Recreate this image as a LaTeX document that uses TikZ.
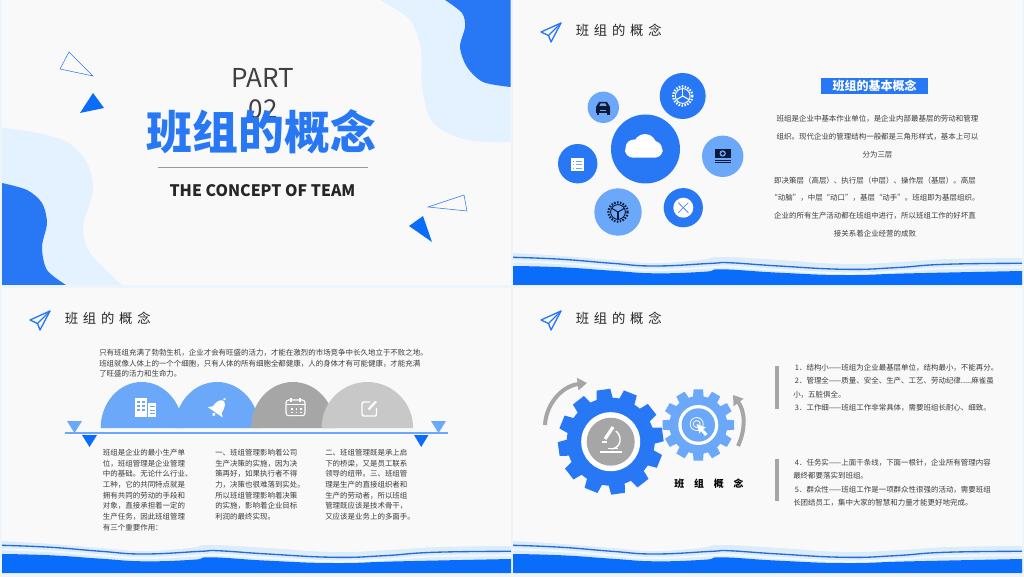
\documentclass[tikz,border=0pt]{standalone}
\usepackage{fontspec}
\setmainfont{Noto Sans CJK SC}
\newfontfamily\headfont[LetterSpace=36]{Noto Sans CJK SC}
\newfontfamily\wideboldfont[LetterSpace=100]{Noto Sans CJK SC}
\usepackage{tikz}
\usetikzlibrary{arrows.meta}
\usepackage{xcolor}

\definecolor{paperbg}{HTML}{F9F9F9}
\definecolor{gutterbg}{HTML}{EDF5FA}
\definecolor{bluedark}{HTML}{2878F5}
\definecolor{bluewave}{HTML}{0A6CFB}
\definecolor{bluelight}{HTML}{6CA8FA}
\definecolor{bluepale}{HTML}{E4F1FE}
\definecolor{wavepalec}{HTML}{DCECFA}
\definecolor{greymid}{HTML}{A6A6A6}
\definecolor{greylight}{HTML}{C8C8C8}
\definecolor{bodygrey}{HTML}{3C3C3C}
\definecolor{iconnavy}{HTML}{0B1A38}

\tikzset{
  bodytext/.style={text=bodygrey, inner sep=0pt, font=\fontsize{5.6}{#1}\selectfont},
  headtext/.style={text=black!85, inner sep=0pt, anchor=west, font=\headfont\fontsize{10}{12}\selectfont},
  planeicon/.style={draw=bluedark, line width=1pt, line join=round},
}

% curves of the wave strip along the foot of a slide
\newcommand{\wavepale}{plot[smooth, tension=0.8] coordinates {(513,253) (562,256) (612,260) (655,263) (700,260) (722,257) (779,260) (845,264) (900,262) (950,259) (1022,258)}}
\newcommand{\waveline}{plot[smooth, tension=0.8] coordinates {(513,257.3) (562,259.3) (612,263.3) (655,266) (712,263.3) (729,262.7) (779,266) (845,269.3) (895,267.7) (945,264.3) (1022,263.3)}}
\newcommand{\waveband}{plot[smooth, tension=0.8] coordinates {(513,266) (562,267.3) (612,270.7) (655,273.3) (705,271.7) (722,269.3) (779,272.7) (845,275) (912,273.3) (1022,271)}}

% toothed wheel: centre x, centre y, tip radius, root radius, colour, first tooth angle
\newcommand{\toothwheel}[6]{
  \fill[#5] (#1,#2) circle (#4);
  \foreach \t in {0,...,11} {
    \pgfmathsetmacro{\a}{#6+30*\t}
    \fill[#5] ({#1+(#4-1)*cos(\a-11)},{#2-(#4-1)*sin(\a-11)}) -- ({#1+#3*cos(\a-7.5)},{#2-#3*sin(\a-7.5)}) -- ({#1+#3*cos(\a+7.5)},{#2-#3*sin(\a+7.5)}) -- ({#1+(#4-1)*cos(\a+11)},{#2-(#4-1)*sin(\a+11)}) -- cycle;
  }
}
% small three spoke wheel glyph, last argument turns the spokes over
\newcommand{\spokewheel}[4]{
  \draw[#3, line width=1.7pt, dash pattern=on 1.1pt off 1.1pt] (#1,#2) circle (9.6);
  \draw[#3, line width=0.7pt] (#1,#2) circle (7.4);
  \draw[#3, line width=0.8pt] (#1,#2) -- ++(0,#4*7.4);
  \draw[#3, line width=0.8pt] (#1,#2) -- ++(6.4,#4*-3.7);
  \draw[#3, line width=0.8pt] (#1,#2) -- ++(-6.4,#4*-3.7);
}

\begin{document}
\begin{tikzpicture}[x=0.75pt, y=-0.75pt]
\useasboundingbox (0,0) rectangle (1024,577);
\fill[gutterbg] (0,0) rectangle (1024,577);
\fill[paperbg] (2,0) rectangle (510.5,285);
\fill[paperbg] (513,0) rectangle (1022,285);
\fill[paperbg] (2,288) rectangle (510.5,573.5);
\fill[paperbg] (513,288) rectangle (1022,573.5);

% Slide one - blobs and triangles
\fill[bluepale] (380,0) -- plot[smooth] coordinates {(380,0) (410,20) (421,50) (422,87) (433,123) (467,140) (510.5,142)} -- (510.5,0) -- cycle;
\fill[bluedark] (445,0) -- plot[smooth] coordinates {(445,0) (462,13) (465,27) (460,47) (467,67) (483,82) (510.5,87)} -- (510.5,0) -- cycle;
\fill[bluepale] (2,128) -- plot[smooth] coordinates {(2,128) (33,132) (67,142) (87,163) (93,190) (83,227) (90,253) (122,285)} -- (2,285) -- cycle;
\fill[bluedark] (2,183) -- plot[smooth] coordinates {(2,183) (27,190) (42,203) (47,223) (42,247) (47,270) (66,285)} -- (2,285) -- cycle;
\draw[bluedark, line width=0.4pt] (69,52) -- (60,69) -- (93,76) -- cycle;
\fill[bluewave] (93,93) -- (80,113) -- (104,108) -- cycle;
\draw[bluedark, line width=0.4pt] (428,207) -- (464,195) -- (467,211) -- cycle;
\fill[bluewave] (423,216) -- (409,226) -- (432,242) -- cycle;
\node[text=black!75, align=center, inner sep=0pt, font=\fontsize{19.5}{23}\selectfont] (partlabel) at (263,93.5) {PART\\02};
\node[text=bluedark, inner sep=0pt, font=\bfseries\fontsize{34.4}{40}\selectfont] (mainTitle) at (261.5,132) {班组的概念};
\coordinate (ruleleft) at (158,167);
\coordinate (ruleright) at (368,167);
\draw[black!40, line width=0.5pt] (ruleleft) -- (ruleright);
\node[text=black!85, inner sep=0pt, font=\bfseries\fontsize{11.9}{15}\selectfont] (subTitle) at (262.5,191) {THE CONCEPT OF TEAM};

% Wave strip on slides two, three and four
\foreach \sx/\sy in {0/0, -511/288, 0/288} {
  \begin{scope}[shift={(\sx,\sy)}]
    \fill[wavepalec] \wavepale -- (1022,274) -- (513,274) -- cycle;
    \draw[white!65!wavepalec, line width=1.5pt, yshift=-3pt] \waveline;
    \fill[bluewave] \waveband -- (1022,285) -- (513,285) -- cycle;
    \draw[bluedark!90!black, line width=1pt] \waveline;
  \end{scope}
}

% Heading on slides two, three and four
\foreach \sx/\sy in {0/0, -511/288, 0/288} {
  \begin{scope}[shift={(\sx,\sy)}]
    \draw[planeicon] (561,23) -- (541,32) -- (548.5,35.5) -- (551,42) -- cycle;
    \draw[planeicon] (548.5,35.5) -- (561,23);
    \node[headtext] at (575.5,30.5) {班组的概念};
  \end{scope}
}

% Slide two - circles
\fill[bluedark] (645.5,149) circle (34.5);
\fill[bluedark] (682.7,96) circle (23);
\fill[bluelight] (603.3,107.3) circle (15.7);
\fill[bluedark] (577.7,163.7) circle (19.7);
\fill[bluelight] (618,212) circle (23.7);
\fill[bluedark] (683.3,207.7) circle (19.6);
\fill[bluelight] (722.7,156.3) circle (20.7);
% cloud
\fill[white, rounded corners=6pt] (625,144) rectangle (662.7,157.7);
\fill[white] (634,148) circle (8.5);
\fill[white] (645,145.5) circle (11.5);
\fill[white] (654,149) circle (8);
% car
\fill[iconnavy] (596,107) -- (599,102) -- (607,102) -- (610,107) -- (610,113) -- (596,113) -- cycle;
\fill[bluelight] (599.3,106) -- (600.5,103.5) -- (605.5,103.5) -- (606.7,106) -- cycle;
\fill[bluelight] (600,110) rectangle (606,111);
\fill[iconnavy] (596.5,113) rectangle (599,115);
\fill[iconnavy] (607,113) rectangle (609.5,115);
% list
\fill[white] (570.7,158.3) rectangle (584.3,171);
\foreach \y in {161,164.5,168} {
  \draw[bluelight, line width=0.6pt] (573,\y) -- (574,\y);
  \draw[bluelight, line width=0.6pt] (575.5,\y) -- (582,\y);
}
% wheels
\spokewheel{682.7}{96}{white}{-1}
\spokewheel{618}{212}{iconnavy}{1}
% cross
\fill[white] (683.3,207.7) circle (10);
\draw[bluedark, line width=0.5pt] (678.3,202.7) -- (688.3,212.7);
\draw[bluedark, line width=0.5pt] (678.3,212.7) -- (688.3,202.7);
% notes
\fill[iconnavy] (714.5,149) rectangle (731,158);
\fill[bluelight] (722.7,153.5) circle (3.2);
\fill[iconnavy] (722.7,153.5) circle (1.8);
\draw[iconnavy, line width=0.6pt] (714.5,160) -- (731,160);
\draw[iconnavy, line width=0.6pt] (714.5,162.3) -- (731,162.3);

% Slide two - banner and text
\node[fill=bluedark, text=white, minimum width=80pt, minimum height=11.7pt, inner sep=0pt, font=\bfseries\fontsize{9}{10}\selectfont] (conceptbanner) at (874.7,85.8) {班组的基本概念};
\node[bodytext=13.5, align=center, anchor=north] (basicone) at (877.5,114.5) {班组是企业中基本作业单位，是企业内部最基层的劳动和管理\\组织。现代企业的管理结构一般都是三角形样式，基本上可以\\分为三层};
\node[bodytext=13.3, align=center, anchor=north] (basictwo) at (875,176.5) {即决策层（高层）、执行层（中层）、操作层（基层）。高层\\“动脑”，中层“动口”，基层“动手”。班组即为基层组织。\\企业的所有生产活动都在班组中进行，所以班组工作的好坏直\\接关系着企业经营的成败};

% Slide three - intro text
\node[bodytext=7.9, align=left, anchor=north west] (introtext) at (99,349) {只有班组充满了勃勃生机，企业才会有旺盛的活力，才能在激烈的市场竞争中长久地立于不败之地。\\班组就像人体上的一个个细胞，只有人体的所有细胞全都健康，人的身体才有可能健康，才能充满\\了旺盛的活力和生命力。};

% Slide three - domes and rule
\fill[bluelight] (100.7,428) arc[start angle=180, end angle=360, x radius=41, y radius=46] -- cycle;
\fill[bluelight] (175,428) arc[start angle=180, end angle=360, x radius=42, y radius=46] -- cycle;
\fill[greymid] (251,428) arc[start angle=180, end angle=360, x radius=42, y radius=46] -- cycle;
\fill[greylight] (321.5,428) arc[start angle=180, end angle=360, x radius=45.8, y radius=46] -- cycle;
\coordinate (railleft) at (65,433.3);
\coordinate (railright) at (448,433.3);
\draw[bluelight, line width=1.4pt] (railleft) -- (railright);
\fill[bluelight] (67,421) -- (82,421) -- (74.5,433) -- cycle;
\fill[bluelight] (431,421) -- (446,421) -- (438.5,433) -- cycle;
\fill[bluewave] (82,435) -- (97,435) -- (89.5,447) -- cycle;
\fill[bluewave] (414,435) -- (428.5,435) -- (421.2,447) -- cycle;
% building
\fill[white] (135,398) rectangle (147.3,416.7);
\fill[white] (148.3,403.3) rectangle (156,416.7);
\foreach \wy in {400.5,404.5,408.5} {
  \fill[bluelight] (137,\wy) rectangle (140.3,{\wy+2.3});
  \fill[bluelight] (142,\wy) rectangle (145.3,{\wy+2.3});
}
\foreach \wy in {406,409.5,413} {
  \fill[bluelight] (150,\wy) rectangle (154.5,{\wy+1.3});
}
% bell
\begin{scope}[shift={(219,407)}, rotate=-35]
  \fill[white] (-5.5,3) .. controls (-5.5,-11) and (5.5,-11) .. (5.5,3) -- (9,6.5) -- (-9,6.5) -- cycle;
  \fill[white] (0,9) circle (1.8);
  \fill[white] (0,-9.5) circle (1.3);
\end{scope}
% calendar
\draw[white, line width=0.8pt, rounded corners=2pt] (286,400) rectangle (305,415.7);
\draw[white, line width=0.8pt] (286,404.5) -- (305,404.5);
\draw[white, line width=0.8pt] (291,398) -- (291,401.5);
\draw[white, line width=0.8pt] (300,398) -- (300,401.5);
\foreach \dx in {291,295.5,300} {
  \fill[white] (\dx,408) rectangle ({\dx+1.6},409.6);
  \fill[white] (\dx,411.5) rectangle ({\dx+1.6},413.1);
}
% edit
\draw[white, line width=1.1pt, rounded corners=1.5pt] (370,402) -- (362,402) -- (362,416) -- (376.5,416) -- (376.5,408);
\draw[white, line width=1.7pt] (368.5,409.5) -- (376,401.5);

% Slide three - columns
\node[bodytext=8, align=left, anchor=north west] (colone) at (102.7,449) {班组是企业的最小生产单\\位，班组管理是企业管理\\中的基础。无论什么行业、\\工种，它的共同特点就是\\拥有共同的劳动的手段和\\对象，直接承担着一定的\\生产任务，因此班组管理\\有三个重要作用：};
\node[bodytext=8, align=left, anchor=north west] (coltwo) at (215,449) {一、班组管理影响着公司\\生产决策的实施，因为决\\策再好，如果执行者不得\\力，决策也很难落到实处。\\所以班组管理影响着决策\\的实施，影响着企业目标\\利润的最终实现。};
\node[bodytext=8, align=left, anchor=north west] (colthree) at (325,449) {二、班组管理既是承上启\\下的桥梁，又是员工联系\\领导的纽带。三、班组管\\理是生产的直接组织者和\\生产的劳动者，所以班组\\管理既应该是技术骨干，\\又应该是业务上的多面手。};

% Slide four - gears
\toothwheel{610.7}{441.7}{53}{44}{bluedark}{8}
\fill[white] (610.7,441.7) circle (29.5);
\fill[greymid] (610.7,441.7) circle (24);
\toothwheel{698.3}{425}{36}{29}{bluelight}{0}
\fill[white] (698.3,425) circle (20);
\fill[bluelight] (698.3,425) circle (16.7);
% microscope
\draw[white, line width=1.4pt] (600,452) -- (621.5,452);
\draw[white, line width=1pt] (608,448.5) -- (618,448.5);
\draw[white, line width=1.1pt] (616,431) .. controls (622,436) and (622,447) .. (612,449);
\draw[white, line width=2.4pt] (605,439) -- (613,427);
\draw[white, line width=1.1pt] (602,442) -- (607,442);
% target
\draw[white, line width=0.6pt] (696.7,424) circle (6.5);
\draw[white, line width=0.6pt] (696.7,424) circle (3.5);
\fill[white] (696.5,424) -- (706,427.5) -- (703,429) -- (707.5,434) -- (705,436) -- (701,431) -- (699.5,433.5) -- cycle;
% turning arrows
\coordinate (turnleftfrom) at (545,425);
\coordinate (turnleftto) at (587,383);
\coordinate (turnrightfrom) at (738,446);
\coordinate (turnrightto) at (733,395);
\draw[greymid, line width=3pt, -{Triangle[length=7pt,width=9pt]}] (turnleftfrom) .. controls (546,404) and (562,386) .. (turnleftto);
\draw[greymid, line width=3pt, -{Triangle[length=7pt,width=9pt]}] (turnrightfrom) .. controls (746,429) and (745,411) .. (turnrightto);
\node[text=black, inner sep=0pt, font=\wideboldfont\bfseries\fontsize{7.4}{9}\selectfont] (gearlabel) at (709,484) {班组概念};

% Slide four - bars and text
\fill[greymid] (775,366) rectangle (779,409);
\fill[greymid] (775,459) rectangle (779,501);
\node[bodytext=10, align=left, anchor=north west] (listone) at (793,364) {\ 1．结构小——班组为企业最基层单位，结构最小，不能再分。\\\ 2．管理全——质量、安全、生产、工艺、劳动纪律.....麻雀虽\\小，五脏俱全。\\\ 3．工作细——班组工作非常具体，需要班组长耐心、细致。};
\node[bodytext=10, align=left, anchor=north west] (listtwo) at (793,459) {\ 4．任务实——上面千条线，下面一根针，企业所有管理内容\\最终都要落实到班组。\\\ 5．群众性——班组工作是一项群众性很强的活动，需要班组\\长团结员工，集中大家的智慧和力量才能更好地完成。};
\end{tikzpicture}
\end{document}
